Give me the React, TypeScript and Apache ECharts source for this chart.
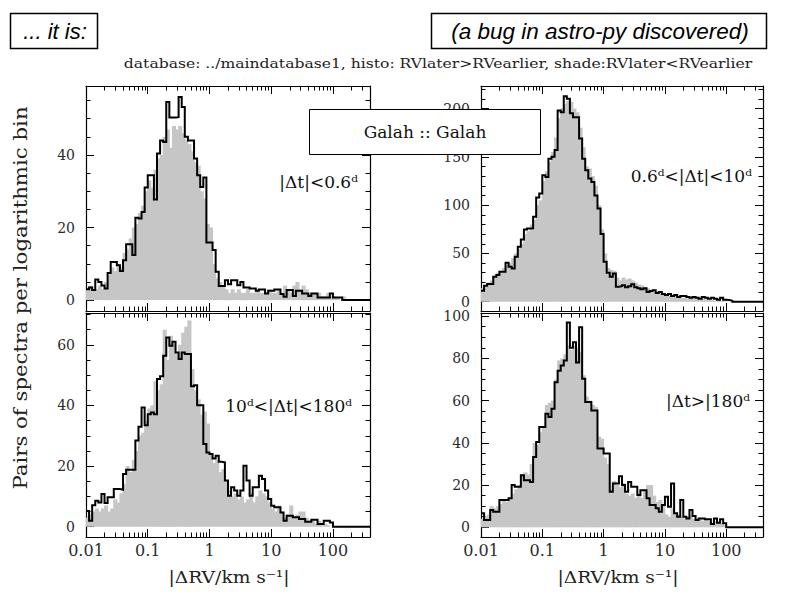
import React, { useEffect, useRef } from 'react';
import * as echarts from 'echarts';

// Histogram binning (log10 of |ΔRV|)
const LOG_MIN = -2;
const LOG_MAX = 2.6;
const BIN_WIDTH = 0.05;

// x tick marks (km/s)
const xMajorTicks = [0.01, 0.1, 1, 10, 100];
const xMajorLabels = ['0.01', '0.1', '1', '10', '100'];
const xMinorTicks = [0.02, 0.03, 0.04, 0.05, 0.06, 0.07, 0.08, 0.09, 0.2, 0.3, 0.4, 0.5, 0.6, 0.7, 0.8, 0.9,
  2, 3, 4, 5, 6, 7, 8, 9, 20, 30, 40, 50, 60, 70, 80, 90, 200, 300];

// y ticks per panel
const tlYMajor = [0, 20, 40];
const tlYMinor = [5, 10, 15, 25, 30, 35, 45, 50, 55];
const trYMajor = [0, 50, 100, 150, 200];
const trYMinor = [10, 20, 30, 40, 60, 70, 80, 90, 110, 120, 130, 140, 160, 170, 180, 190, 210, 220];
const blYMajor = [0, 20, 40, 60];
const blYMinor = [5, 10, 15, 25, 30, 35, 45, 50, 55, 65, 70];
const brYMajor = [0, 20, 40, 60, 80, 100];
const brYMinor = [5, 10, 15, 25, 30, 35, 45, 50, 55, 65, 70, 75, 85, 90, 95];

// Panel 1: |Δt| < 0.6 d  (histo: RVlater>RVearlier, shade: RVlater<RVearlier)
const tlLine = [
  3, 3.5, 2.8, 5.7, 5, 4, 3.2, 7.5, 10.5, 10.5,
  9.6, 8, 11, 15.4, 15.4, 12.4, 22.7, 22.5, 24.3, 31,
  34.4, 34.4, 27.7, 40.4, 44, 43.6, 54.6, 50.3, 50.3, 50.4,
  56, 53.2, 45, 44, 44, 39, 34.4, 31.2, 33.8, 15.9,
  15.9, 13.8, 7.8, 3.9, 3.9, 5.5, 4.4, 5.5, 5.5, 4.1,
  5, 3.5, 3.5, 3.2, 3.2, 2.6, 2.9, 2.9, 1.8, 2.6,
  2.6, 2.9, 2.9, 1.7, 0.9, 2.8, 2.8, 1.1, 2.6, 2.6,
  1.8, 1.8, 1.1, 1.8, 1.8, 0.7, 0.7, 0.7, 0.7, 1.8,
  0.7, 0.7, 0.7,
];
const tlShade = [
  3, 4, 3, 3, 4, 3, 5, 7, 9, 8,
  10, 9, 13, 14, 17, 20, 21, 24, 26, 30,
  33, 31, 36, 39, 40, 45, 47, 42, 48, 47,
  48, 46, 44, 43, 41, 38, 37, 30, 28, 21,
  20, 10, 6, 5, 4, 3, 2, 3, 2, 3,
  2, 2, 3, 2, 2, 3, 2, 2, 2, 3,
  2, 2, 3, 2, 4, 3, 2, 4, 5, 3,
  4, 3, 2, 2, 2, 2, 1, 1, 2, 1,
  1, 0.5, 0, 1,
];

// Panel 2: 0.6 d < |Δt| < 10 d
const trLine = [
  11.4, 16.5, 18.3, 18.3, 25.9, 27.6, 31, 31, 40.3, 36.2,
  34.5, 46.6, 57, 64.5, 74.8, 75.9, 76, 88, 108, 112,
  131, 129, 148, 150, 157, 198, 196, 212.7, 210, 195,
  191, 191, 169, 148, 136, 127.6, 124, 110, 96.5, 70,
  41.4, 30, 25.9, 29.3, 15.5, 16, 17, 15, 16, 18,
  15, 14, 13, 14, 10, 11, 12, 9, 10, 8,
  7, 8, 6, 7, 5, 6, 6, 5, 4, 5,
  4, 3, 5, 4, 3, 4, 3, 2, 4, 2,
  1.7, 1,
];
const trShade = [
  14, 17, 20, 22, 27, 30, 32, 35, 38, 40,
  45, 50, 55, 60, 70, 73, 80, 85, 100, 105,
  125, 135, 145, 155, 170, 190, 200, 205, 208, 207,
  200, 196, 180, 160, 140, 138, 130, 120, 100, 75,
  50, 35, 33, 32, 25, 22, 25, 23, 24, 22,
  20, 18, 17, 15, 14, 12, 10, 9, 8, 9,
  7, 6, 5, 6, 5, 4, 4, 3, 4, 3,
  3, 2, 3, 2, 2, 2, 1, 1, 1, 1,
];

// Panel 3: 10 d < |Δt| < 180 d
const blLine = [
  5.2, 2, 7.1, 8.6, 8, 10.8, 7.8, 9.7, 9.7, 12.4,
  12.4, 12.2, 17.4, 18.8, 18.8, 18.8, 28.4, 33, 39.3, 33.5,
  37.1, 37.7, 37.1, 48.7, 49.6, 56.4, 62.4, 59.7, 61, 57.5,
  55.3, 57.5, 57, 57, 46.3, 46.7, 40.1, 40.1, 27.3, 24.5,
  24, 22.5, 23.4, 21.4, 21.2, 15.2, 10.2, 13, 11.9, 10.2,
  11.9, 20.1, 15.2, 10.2, 13, 13, 16.8, 15.7, 11.9, 9.1,
  6.9, 6.4, 6.4, 4.7, 2, 3.6, 3.6, 3.1, 3.1, 2.5,
  2.5, 1.6, 1.6, 2.3, 2.3, 0.9, 0.9, 2, 2, 1.4,
];
const blShade = [
  3, 4, 5, 6, 5, 6, 7, 5, 6, 9,
  8, 11, 14, 20, 18, 22, 25, 30, 31, 35,
  39, 40, 48, 45, 47, 65, 55, 63, 60, 57,
  60, 64, 66, 68, 52, 45, 42, 37, 38, 34,
  24, 21, 22, 18, 19, 15, 12, 10, 11, 9,
  10, 8, 9, 11, 8, 10, 12, 11, 10, 8,
  6, 5, 7, 5, 3, 4, 7, 3, 4, 5,
  5, 3, 2, 2, 1, 2, 1, 1, 0.5,
];

// Panel 4: |Δt| > 180 d
const brLine = [
  6.6, 3.5, 3.5, 8.2, 7.4, 7.4, 12.9, 12.9, 12.9, 13.7,
  20, 19.2, 19.2, 24.7, 22.3, 22.3, 21.5, 33.3, 40.4, 47.5,
  47.5, 53.8, 52.2, 56.1, 68.7, 74.2, 76.6, 79, 97, 85,
  87.6, 78, 94.7, 70.3, 59.3, 59.3, 55.3, 55.3, 37.3, 37.3,
  34.9, 34.9, 16.8, 20.8, 20.8, 24.2, 20, 16.8, 21.5, 19.2,
  19.2, 15.3, 17.6, 17.6, 13.7, 10.5, 10.5, 9, 7.4, 10.5,
  14.5, 9.7, 20.8, 6.6, 5, 12.9, 5, 4.2, 8.2, 5.3,
  3.5, 4.2, 4.2, 3.8, 3.8, 1.6, 4.2, 2.2, 3.8, 1.9,
];
const brShade = [
  4, 5, 6, 10, 9, 10, 11, 13, 12, 14,
  16, 18, 20, 25, 26, 25, 30, 40, 39, 45,
  48, 58, 59, 60, 70, 79, 80, 82, 86, 84,
  86, 85, 83, 72, 62, 60, 58, 57, 43, 42,
  33, 30, 18, 22, 20, 19, 21, 16, 15, 16,
  14, 16, 14, 18, 20, 20, 15, 12, 13, 11,
  6, 5, 9, 7, 6, 5, 4, 5, 6, 4,
  3, 4, 3, 4, 3, 2, 3, 2, 2, 1,
];

const panelLabels = ['|Δt|<0.6ᵈ', '0.6ᵈ<|Δt|<10ᵈ', '10ᵈ<|Δt|<180ᵈ', '|Δt>|180ᵈ'];
const xTitle = '|ΔRV/km s⁻¹|';
const yTitle = 'Pairs of spectra per logarithmic bin';

const SERIF = '"DejaVu Serif", serif';
const LABEL_COLOR = '#2a2a2a';

const panels = [
  { grid: { left: 86, top: 86, width: 284, height: 225 }, yMin: -3, yMax: 59, yMajor: tlYMajor, yMinor: tlYMinor, line: tlLine, shade: tlShade, label: panelLabels[0], labelAt: [358, 182], xLabels: false },
  { grid: { left: 481, top: 86, width: 282, height: 225 }, yMin: -9.6, yMax: 223.3, yMajor: trYMajor, yMinor: trYMinor, line: trLine, shade: trShade, label: panelLabels[1], labelAt: [752, 176], xLabels: false },
  { grid: { left: 86, top: 313, width: 284, height: 224 }, yMin: -3.4, yMax: 70.5, yMajor: blYMajor, yMinor: blYMinor, line: blLine, shade: blShade, label: panelLabels[2], labelAt: [352, 406], xLabels: true },
  { grid: { left: 481, top: 313, width: 282, height: 224 }, yMin: -4.6, yMax: 101.5, yMajor: brYMajor, yMinor: brYMinor, line: brLine, shade: brShade, label: panelLabels[3], labelAt: [750, 401], xLabels: true },
];

function xLabelFor(v: number): string {
  const i = xMajorTicks.findIndex((t) => Math.abs(Math.log10(t) - v) < 1e-6);
  return i >= 0 ? xMajorLabels[i] : '';
}

function buildOption() {
  const grids: any[] = [];
  const xAxes: any[] = [];
  const yAxes: any[] = [];
  const series: any[] = [];
  const graphics: any[] = [];

  const lineStyle = { color: '#000', width: 1.2 };
  const tickStyle = { color: '#000', width: 1 };

  panels.forEach((p, gi) => {
    grids.push({ ...p.grid, containLabel: false });
    const xBase = xAxes.length;
    const yBase = yAxes.length;
    const majorX = xMajorTicks.map((t) => Math.log10(t));
    const minorX = xMinorTicks.map((t) => Math.log10(t));
    const mkX = (position: string, ticks: number[], len: number, showLabel: boolean, showLine: boolean) => ({
      type: 'value', gridIndex: gi, position, min: LOG_MIN, max: LOG_MAX,
      axisLine: { show: showLine, onZero: false, lineStyle },
      axisTick: { show: true, inside: true, length: len, customValues: ticks, lineStyle: tickStyle },
      axisLabel: showLabel
        ? { show: true, customValues: majorX, formatter: (v: number) => xLabelFor(v), margin: 5, fontFamily: SERIF, fontSize: 16, color: LABEL_COLOR }
        : { show: false },
      splitLine: { show: false },
    });
    xAxes.push(mkX('bottom', majorX, 8, p.xLabels, true));
    xAxes.push(mkX('bottom', minorX, 4.5, false, false));
    xAxes.push(mkX('top', majorX, 8, false, true));
    xAxes.push(mkX('top', minorX, 4.5, false, false));

    const mkY = (position: string, ticks: number[], len: number, showLabel: boolean, showLine: boolean) => ({
      type: 'value', gridIndex: gi, position, min: p.yMin, max: p.yMax,
      axisLine: { show: showLine, onZero: false, lineStyle },
      axisTick: { show: true, inside: true, length: len, customValues: ticks, lineStyle: tickStyle },
      axisLabel: showLabel
        ? { show: true, customValues: p.yMajor, margin: 11, fontFamily: SERIF, fontSize: 14, lineHeight: 11, color: LABEL_COLOR }
        : { show: false },
      splitLine: { show: false },
    });
    yAxes.push(mkY('left', p.yMajor, 8, true, true));
    yAxes.push(mkY('left', p.yMinor, 4.5, false, false));
    yAxes.push(mkY('right', p.yMajor, 8, false, true));
    yAxes.push(mkY('right', p.yMinor, 4.5, false, false));

    // shaded histogram
    const shadeData = p.shade.map((v, i) => [LOG_MIN + i * BIN_WIDTH, LOG_MIN + (i + 1) * BIN_WIDTH, v]);
    series.push({
      type: 'custom', xAxisIndex: xBase, yAxisIndex: yBase, z: 2, clip: true,
      data: shadeData,
      encode: { x: [0, 1], y: 2 },
      renderItem: (params: any, api: any) => {
        const lo = api.value(0), hi = api.value(1), v = api.value(2);
        if (!(v > 0)) return null;
        const p0 = api.coord([lo, 0]);
        const p1 = api.coord([hi, v]);
        return {
          type: 'rect',
          shape: { x: p0[0] - 0.5, y: p1[1], width: p1[0] - p0[0] + 1, height: p0[1] - p1[1] },
          style: { fill: '#c6c6c6' },
        };
      },
    });

    // step-line histogram
    const pts: number[][] = [];
    p.line.forEach((v, i) => {
      pts.push([LOG_MIN + i * BIN_WIDTH, v]);
      pts.push([LOG_MIN + (i + 1) * BIN_WIDTH, v]);
    });
    pts.push([LOG_MIN + p.line.length * BIN_WIDTH, 0]);
    pts.push([LOG_MAX, 0]);
    series.push({
      type: 'line', xAxisIndex: xBase, yAxisIndex: yBase, z: 3,
      data: pts, showSymbol: false, symbol: 'none',
      lineStyle: { color: '#000', width: 2, join: 'miter' },
    });

    graphics.push({
      type: 'text', x: p.labelAt[0], y: p.labelAt[1], z: 50,
      style: { text: p.label, align: 'right', verticalAlign: 'middle', fontFamily: SERIF, fontSize: 17, fill: '#111' },
    });
  });

  // Header boxes
  graphics.push(
    { type: 'rect', z: 50, shape: { x: 10.5, y: 13.5, width: 87, height: 35 }, style: { fill: '#fff', stroke: '#000', lineWidth: 1.5 } },
    { type: 'text', z: 51, x: 55, y: 31, style: { text: '... it is:', align: 'center', verticalAlign: 'middle', fontFamily: '"Liberation Sans", Arial, sans-serif', fontStyle: 'italic', fontSize: 22, fill: '#000' } },
    { type: 'rect', z: 50, shape: { x: 431.5, y: 13.5, width: 335, height: 35 }, style: { fill: '#fff', stroke: '#000', lineWidth: 1.5 } },
    { type: 'text', z: 51, x: 600, y: 31, style: { text: '(a bug in astro-py discovered)', align: 'center', verticalAlign: 'middle', fontFamily: '"Liberation Sans", Arial, sans-serif', fontStyle: 'italic', fontSize: 22.5, fill: '#000' } },
    { type: 'text', z: 51, x: 438, y: 63, scaleX: 1.2, style: { text: 'database: ../maindatabase1, histo: RVlater>RVearlier, shade:RVlater<RVearlier', align: 'center', verticalAlign: 'middle', fontFamily: SERIF, fontSize: 13, fill: '#222' } },
    { type: 'rect', z: 60, shape: { x: 309.5, y: 109.5, width: 231, height: 45 }, style: { fill: '#fff', stroke: '#000', lineWidth: 1 } },
    { type: 'text', z: 61, x: 425, y: 132, style: { text: 'Galah :: Galah', align: 'center', verticalAlign: 'middle', fontFamily: SERIF, fontSize: 17, fill: '#111' } },
    { type: 'text', z: 51, x: 20, y: 298, rotation: Math.PI / 2, scaleX: 1.12, style: { text: yTitle, align: 'center', verticalAlign: 'middle', fontFamily: SERIF, fontSize: 19, fill: '#222' } },
    { type: 'text', z: 51, x: 229, y: 577, scaleX: 1.1, style: { text: xTitle, align: 'center', verticalAlign: 'middle', fontFamily: SERIF, fontSize: 17, fill: '#222' } },
    { type: 'text', z: 51, x: 618, y: 577, scaleX: 1.1, style: { text: xTitle, align: 'center', verticalAlign: 'middle', fontFamily: SERIF, fontSize: 17, fill: '#222' } },
  );

  return {
    animation: false,
    backgroundColor: '#fff',
    grid: grids,
    xAxis: xAxes,
    yAxis: yAxes,
    series,
    graphic: graphics,
  };
}

export default function App() {
  const ref = useRef<HTMLDivElement>(null);
  useEffect(() => {
    if (!ref.current) return;
    const chart = echarts.init(ref.current, null, { renderer: 'svg' });
    chart.setOption(buildOption() as any);
    return () => chart.dispose();
  }, []);
  return <div ref={ref} style={{ width: 794, height: 595, position: 'absolute', left: 0, top: 0 }} />;
}
